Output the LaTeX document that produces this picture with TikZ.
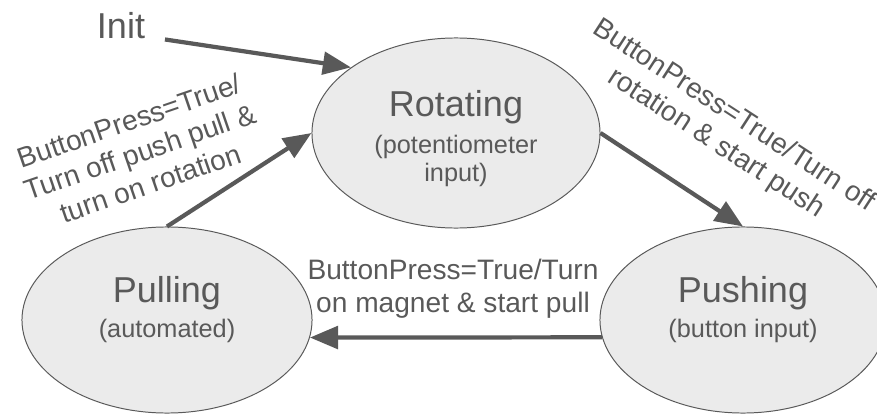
\documentclass[tikz,border=0pt]{standalone}
\usepackage{fontspec}
\setmainfont{Liberation Sans}
\usetikzlibrary{shapes.geometric,arrows.meta}
\definecolor{stategray}{HTML}{595959}
\definecolor{statefill}{HTML}{EBEBEB}
\tikzset{
  state/.style={ellipse, draw=stategray, fill=statefill, line width=0.7pt,
    text=stategray, align=center, font=\fontsize{18}{20}\selectfont},
  trans/.style={line width=3pt, draw=stategray,
    -{Triangle[length=20pt,width=16pt]}},
  translabel/.style={text=stategray, align=center,
    font=\fontsize{20}{23.5}\selectfont}
}
\newcommand{\statename}[1]{{\fontsize{25.6}{30}\selectfont #1}}

\begin{document}
\begin{tikzpicture}[x=0.025cm, y=-0.025cm]
            \useasboundingbox (0,0) rectangle (877,414);
            % The three states
            \node [state, minimum width=7.2cm, minimum height=4.75cm, text height=73pt]
              (rot) at (456,133) {\statename{Rotating}\\[6.3pt](potentiometer\\input)};
            \node [state, minimum width=7.25cm, minimum height=4.65cm, text depth=18pt]
              (pull) at (167,320) {\statename{Pulling}\\[5pt](automated)};
            \node [state, minimum width=7.15cm, minimum height=4.65cm, text depth=18pt]
              (push) at (743,320) {\statename{Pushing}\\[5pt](button input)};

            % Start marker
            \node [text=stategray, font=\fontsize{25.6}{30}\selectfont,
              inner xsep=14pt, inner ysep=0pt] (init) at (121,26) {Init};
            \draw [trans] (init.south east) -- (rot.148);

            % Transitions between the states
            \foreach \from/\to in {pull.north/rot.west, rot.east/push.north, push.187/pull.-7} {
              \draw [trans] (\from) -- (\to);
            }

            % Transition labels
            \node [translabel, rotate=19] (pulllab) at (140,152)
              {ButtonPress=True/\\Turn off push pull \&\\turn on rotation};
            \node [translabel, rotate=-33] (rotlab) at (725,130)
              {ButtonPress=True/Turn off\\rotation \& start push};
            \node [translabel] (pushlab) at (453,289)
              {ButtonPress=True/Turn\\on magnet \& start pull};
        \end{tikzpicture}
\end{document}
